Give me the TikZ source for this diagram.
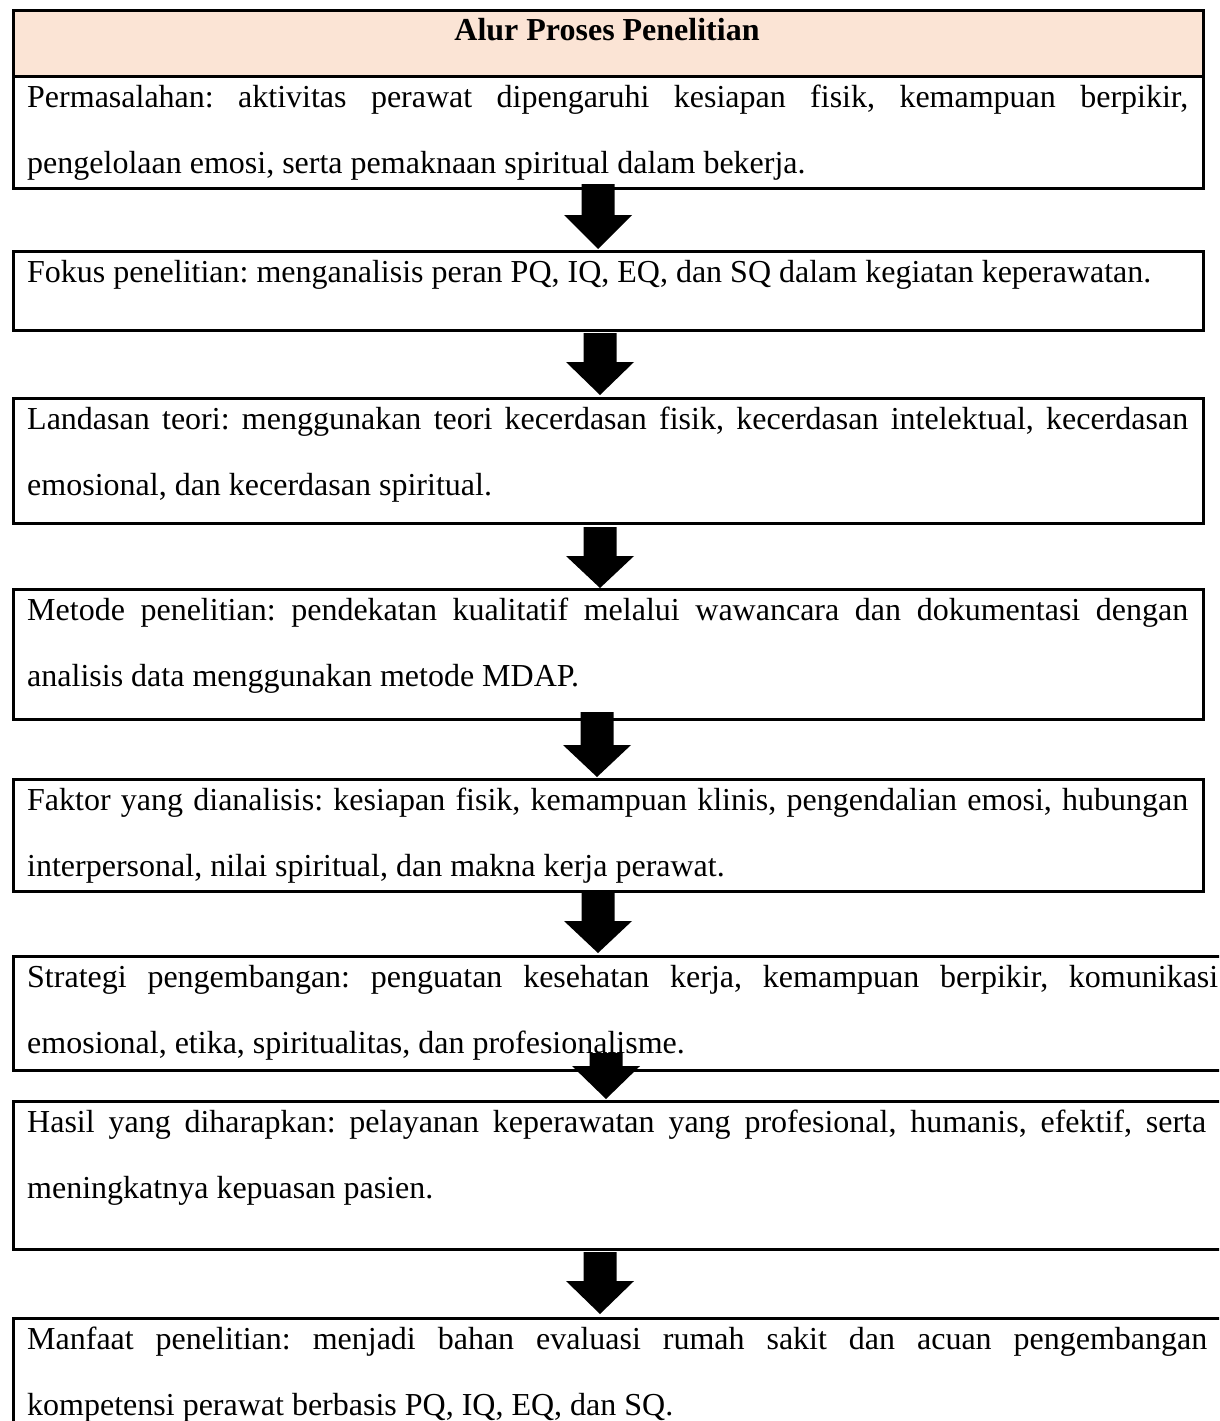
\documentclass[tikz,border=0pt]{standalone}
\usepackage{fontspec}
\setmainfont{Liberation Serif}
\definecolor{hdr}{RGB}{251,228,213}
\hyphenpenalty=10000
\exhyphenpenalty=10000
\tolerance=9999
\emergencystretch=40pt
\frenchspacing
\tikzset{
  frame/.style={draw=black, line width=2.8pt, rectangle, inner sep=0pt, anchor=north west},
  txt/.style={anchor=north west, inner sep=0pt, align=justify, font=\frenchspacing\fontsize{32}{66}\selectfont},
  blockarrow/.style={fill=black},
}
\newcommand\bigarrow[4]{%
  \fill[blockarrow] (#1-16.5,#2) -- (#1+16.5,#2) -- (#1+16.5,#3) -- (#1+34,#3) -- (#1,#4) -- (#1-34,#3) -- (#1-16.5,#3) -- cycle;}
\newcommand\st{\rule{0pt}{25pt}}
\begin{document}
\begin{tikzpicture}[x=1pt,y=-1pt]
\path[use as bounding box] (0,0) rectangle (1219,1421);
\clip (0,0) rectangle (1219,1421);
% header and boxes
\node[frame, fill=hdr, minimum width=1190pt, minimum height=66pt] (hdrbox) at (12,9) {};
\node[font=\bfseries\fontsize{32}{66}\selectfont, anchor=base, inner sep=0pt] (title) at (607,41) {Alur Proses Penelitian};
\node[frame, minimum width=1190pt, minimum height=112pt] (b1) at (12,75) {};
\node[frame, minimum width=1190pt, minimum height=79pt] (b2) at (12,250) {};
\node[frame, minimum width=1190pt, minimum height=125pt] (b3) at (12,397) {};
\node[frame, minimum width=1190pt, minimum height=130pt] (b4) at (12,588) {};
\node[frame, minimum width=1190pt, minimum height=112pt] (b5) at (12,778) {};
\node[frame, minimum width=1240pt, minimum height=114pt] (b6) at (12,955) {};
\node[frame, minimum width=1240pt, minimum height=148pt] (b7) at (12,1100) {};
\node[frame, minimum width=1240pt, minimum height=150pt] (b8) at (12,1317) {};
% texts
\node[txt, text width=1161pt] (t1) at (27,82) {\st Permasalahan: aktivitas perawat dipengaruhi kesiapan fisik, kemampuan berpikir,\linebreak pengelolaan emosi, serta pemaknaan spiritual dalam bekerja.};
\node[txt, text width=1161pt] (t2) at (27,257) {\st Fokus penelitian: menganalisis peran PQ, IQ, EQ, dan SQ dalam kegiatan keperawatan.};
\node[txt, text width=1161pt] (t3) at (27,404) {\st Landasan teori: menggunakan teori kecerdasan fisik, kecerdasan intelektual, kecerdasan\linebreak emosional, dan kecerdasan spiritual.};
\node[txt, text width=1161pt] (t4) at (27,595) {\st Metode penelitian: pendekatan kualitatif melalui wawancara dan dokumentasi dengan\linebreak analisis data menggunakan metode MDAP.};
\node[txt, text width=1161pt] (t5) at (27,785) {\st Faktor yang dianalisis: kesiapan fisik, kemampuan klinis, pengendalian emosi, hubungan\linebreak interpersonal, nilai spiritual, dan makna kerja perawat.};
\node[txt, text width=1191pt] (t6) at (27,962) {\st Strategi pengembangan: penguatan kesehatan kerja, kemampuan berpikir, komunikasi\linebreak emosional, etika, spiritualitas, dan profesionalisme.};
\node[txt, text width=1179pt] (t7) at (27,1107) {\st Hasil yang diharapkan: pelayanan keperawatan yang profesional, humanis, efektif, serta\linebreak meningkatnya kepuasan pasien.};
\node[txt, text width=1180pt] (t8) at (27,1324) {\st Manfaat penelitian: menjadi bahan evaluasi rumah sakit dan acuan pengembangan\linebreak kompetensi perawat berbasis PQ, IQ, EQ, dan SQ.};
% arrows
\bigarrow{598}{184}{215}{249}
\bigarrow{600}{333}{362}{395}
\bigarrow{600}{527}{556}{588}
\bigarrow{597}{712}{745}{777}
\bigarrow{598}{893}{921}{953}
\bigarrow{606}{1053}{1066}{1099}
\bigarrow{600}{1252}{1281}{1314}
\end{tikzpicture}
\end{document}
